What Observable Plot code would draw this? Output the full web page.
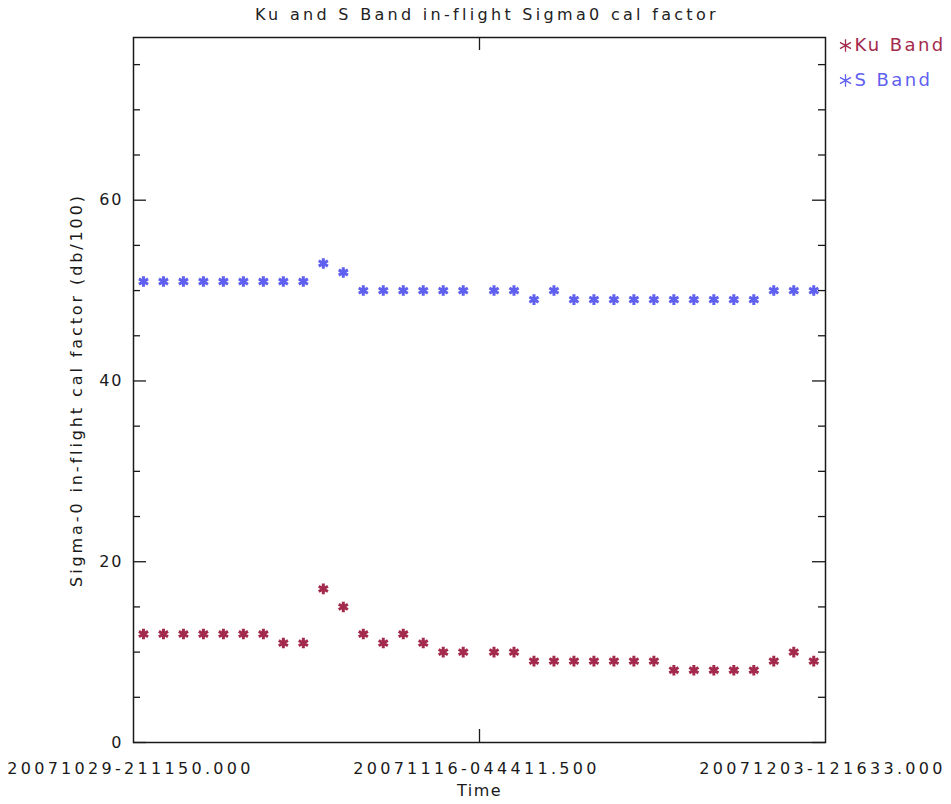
<!DOCTYPE html>
<html><head><meta charset="utf-8">
<script src="https://cdn.jsdelivr.net/npm/d3@7"></script>
<script src="https://cdn.jsdelivr.net/npm/@observablehq/plot@0.6"></script>
<style>
body{margin:0;background:#fff;}
#title{position:absolute;left:141px;width:692px;top:5px;text-align:center;font-family:"DejaVu Sans",sans-serif;font-size:16px;letter-spacing:3.3px;color:#222;}
#chart{position:absolute;left:0;top:0;}
#chart g[aria-label="x-axis tick label"]{letter-spacing:3.3px;}
#chart g[aria-label="x-axis label"]{letter-spacing:1.5px;}
#chart g[aria-label="y-axis tick label"]{letter-spacing:2px;}
#chart g[aria-label="y-axis label"]{letter-spacing:2.9px;}
#chart g[aria-label="text"]{letter-spacing:2.4px;}
</style></head><body>
<div id="chart"></div>
<div id="title">Ku and S Band in-flight Sigma0 cal factor</div>
<script>
const times = [
"2007-10-30T09:10Z","2007-10-31T09:10Z","2007-11-01T09:10Z","2007-11-02T09:10Z","2007-11-03T09:10Z",
"2007-11-04T09:10Z","2007-11-05T09:10Z","2007-11-06T09:10Z","2007-11-07T09:10Z","2007-11-08T09:10Z",
"2007-11-09T09:10Z","2007-11-10T09:10Z","2007-11-11T09:10Z","2007-11-12T09:10Z","2007-11-13T09:10Z",
"2007-11-14T09:10Z","2007-11-15T09:10Z",
"2007-11-16T22:10Z","2007-11-17T22:10Z","2007-11-18T22:10Z","2007-11-19T22:10Z","2007-11-20T22:10Z",
"2007-11-21T22:10Z","2007-11-22T22:10Z","2007-11-23T22:10Z","2007-11-24T22:10Z","2007-11-25T22:10Z",
"2007-11-26T22:10Z","2007-11-27T22:10Z","2007-11-28T22:10Z","2007-11-29T22:10Z","2007-11-30T22:10Z",
"2007-12-01T22:10Z","2007-12-02T22:10Z"];
const kuBand = [12,12,12,12,12,12,12,11,11,17,15,12,11,12,11,10,10,
                10,10,9,9,9,9,9,9,9,8,8,8,8,8,9,10,9];
const sBand  = [51,51,51,51,51,51,51,51,51,53,52,50,50,50,50,50,50,
                50,50,49,50,49,49,49,49,49,49,49,49,49,49,50,50,50];
const seriesNames = ["Ku Band","S Band"];
const seriesColors = ["#a32a4c","#5f5ff0"];
const xTickTimes = ["2007-10-29T21:11:50Z","2007-11-16T04:44:11.5Z","2007-12-03T12:16:33Z"];
const xTickLabels = ["20071029-211150.000","20071116-044411.500","20071203-121633.000"];
const yMajor = [0,20,40,60];
const yMinor = [5,10,15,25,30,35,45,50,55,65,70,75];
const yDomain = [0,78];
const xLabel = "Time";
const yLabel = "Sigma-0 in-flight cal factor (db/100)";

const W=951,H=804,mL=133,mR=126,mT=37,mB=62;
const innerW=W-mL-mR, innerH=H-mT-mB;
const xTicks = xTickTimes.map(d=>new Date(d));
const labelMap = new Map(xTicks.map((d,i)=>[+d,xTickLabels[i]]));
const rows = [];
times.forEach((t,i)=>{
  rows.push({time:new Date(t), value:kuBand[i], series:seriesNames[0]});
  rows.push({time:new Date(t), value:sBand[i], series:seriesNames[1]});
});
const ink="#1a1a1a";
const chart = Plot.plot({
  width:W, height:H, marginLeft:mL, marginRight:mR, marginTop:mT, marginBottom:mB,
  style:{fontFamily:"DejaVu Sans, sans-serif", fontSize:"16px", color:ink, background:"#fff"},
  x:{type:"utc", domain:[xTicks[0], xTicks[2]]},
  y:{domain:yDomain},
  color:{domain:seriesNames, range:seriesColors},
  marks:[
    Plot.axisX(xTicks,{tickSize:0, tickPadding:20, tickFormat:d=>labelMap.get(+d), fontSize:16, dx:-3,
      label:xLabel, labelAnchor:"center", labelArrow:"none", labelOffset:53}),
    Plot.axisY(yMajor,{tickSize:0, tickPadding:10, fontSize:16,
      label:yLabel, labelAnchor:"center", labelArrow:"none", labelOffset:63}),
    Plot.tickY(yMajor,{y:d=>d, insetRight:innerW-13, stroke:ink, strokeWidth:1.3}),
    Plot.tickY(yMajor,{y:d=>d, insetLeft:innerW-13, stroke:ink, strokeWidth:1.3}),
    Plot.tickY(yMinor,{y:d=>d, insetRight:innerW-7, stroke:ink, strokeWidth:1.3}),
    Plot.tickY(yMinor,{y:d=>d, insetLeft:innerW-7, stroke:ink, strokeWidth:1.3}),
    Plot.tickX([xTicks[1]],{x:d=>d, insetTop:innerH-13, stroke:ink, strokeWidth:1.3}),
    Plot.tickX([xTicks[1]],{x:d=>d, insetBottom:innerH-13, stroke:ink, strokeWidth:1.3}),
    Plot.frame({stroke:ink, strokeWidth:1.5}),
    Plot.dot(rows,{x:"time", y:"value", stroke:"series", symbol:"asterisk", r:5, strokeWidth:3}),
    ...seriesNames.map((s,i)=>Plot.dot([s],{frameAnchor:"top-right", dx:20, dy:8+i*35, stroke:d=>d, symbol:"asterisk", r:6, strokeWidth:1.3})),
    ...seriesNames.map((s,i)=>Plot.text([s],{frameAnchor:"top-right", dx:29, dy:8+i*35, text:d=>d, fill:d=>d, textAnchor:"start", lineAnchor:"middle", fontSize:18}))
  ]
});
document.getElementById("chart").appendChild(chart);
</script>
</body></html>
